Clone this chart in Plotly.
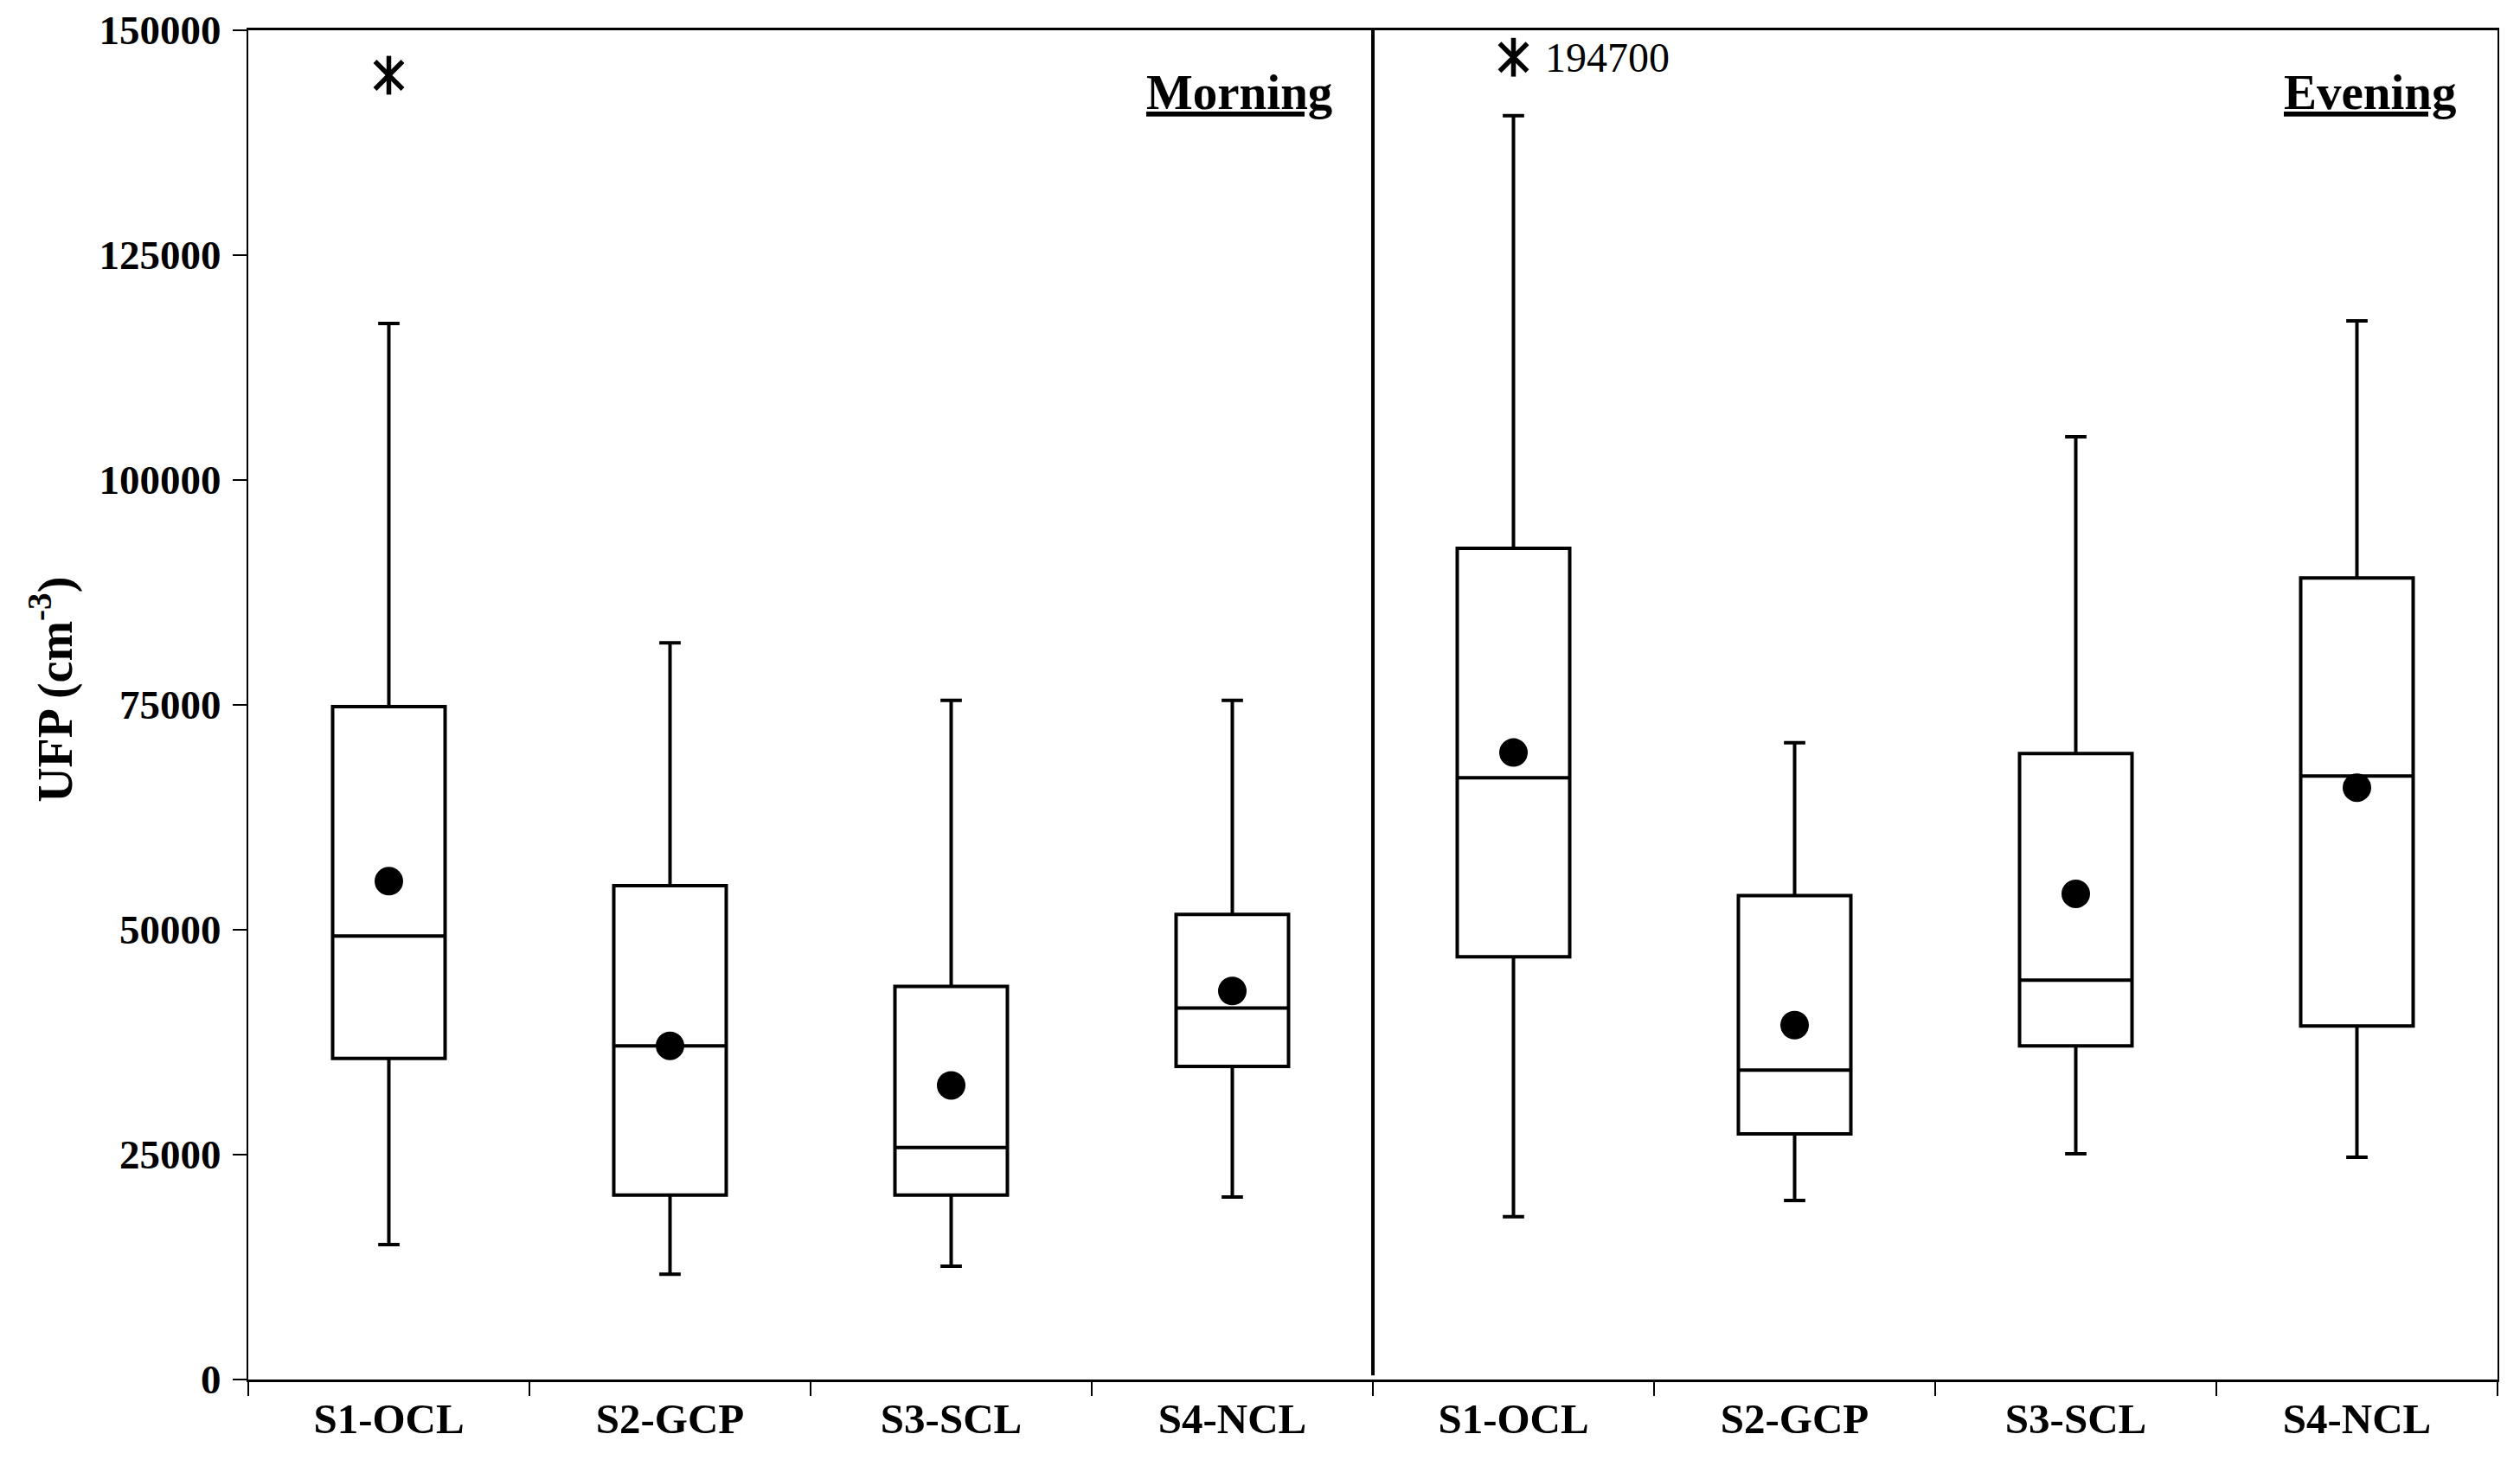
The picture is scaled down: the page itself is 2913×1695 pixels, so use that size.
import plotly.graph_objects as go

# ---- data (UFP, cm^-3) ----
sites = ["S1-OCL", "S2-GCP", "S3-SCL", "S4-NCL",
         "S1-OCL", "S2-GCP", "S3-SCL", "S4-NCL"]
periods = ["Morning"] * 4 + ["Evening"] * 4

ufp_min    = [15000, 11700, 12600, 20300, 18100, 19900, 25100, 24700]
ufp_q1     = [35700, 20500, 20500, 34800, 47000, 27300, 37100, 39300]
ufp_median = [49300, 37100, 25800, 41300, 66900, 34400, 44400, 67100]
ufp_q3     = [74800, 54900, 43700, 51700, 92400, 53800, 69600, 89100]
ufp_max    = [117400, 81900, 75500, 75500, 140500, 70800, 104800, 117700]
ufp_mean   = [55400, 37100, 32700, 43200, 69700, 39400, 54000, 65800]

# extreme values (x index, real value, where it is drawn on the clipped axis)
outlier_idx   = [0, 4]
outlier_value = [145000, 194700]
outlier_drawn = [145000, 147000]

y_max = 150000
y_ticks = [0, 25000, 50000, 75000, 100000, 125000, 150000]

FONT = "Liberation Serif"
xs = list(range(len(sites)))

fig = go.Figure()

fig.add_trace(go.Box(
    x=xs, q1=ufp_q1, median=ufp_median, q3=ufp_q3,
    lowerfence=ufp_min, upperfence=ufp_max,
    boxpoints=False, width=0.4, whiskerwidth=0.19,
    line=dict(color="black", width=4),
    fillcolor="rgba(0,0,0,0)",
    hoverinfo="skip",
))

fig.add_trace(go.Scatter(
    x=xs, y=ufp_mean, mode="markers",
    marker=dict(symbol="circle", size=33, color="black"),
))

# asterisk = x + vertical bar
for sym in ("x-thin-open", "line-ns-open"):
    fig.add_trace(go.Scatter(
        x=outlier_idx, y=outlier_drawn, mode="markers",
        marker=dict(symbol=sym, size=32, color="black",
                    line=dict(color="black", width=5.5)),
    ))

for i, v, d in zip(outlier_idx, outlier_value, outlier_drawn):
    if v > y_max:
        fig.add_annotation(x=i, y=d, xref="x", yref="y", text=str(v),
                           showarrow=False, xanchor="left", xshift=34,
                           font=dict(family=FONT, size=48, color="black"))

# split between the two periods
fig.add_shape(type="line", xref="x", yref="paper", x0=3.5, x1=3.5,
              y0=0.003, y1=1.002, line=dict(color="black", width=4))

for name, xr in (("Morning", 3.5), ("Evening", 7.5)):
    fig.add_annotation(x=xr, y=0.954, xref="x", yref="paper",
                       text=f"<b><u>{name}</u></b>", showarrow=False,
                       xanchor="right", yanchor="middle", xshift=-45,
                       font=dict(family=FONT, size=57, color="black"))

fig.add_annotation(x=-0.0873, y=0.511, xref="paper", yref="paper",
                   text="<b>UFP (cm<sup>-3</sup>)</b>", textangle=-90,
                   showarrow=False, xanchor="center", yanchor="middle",
                   font=dict(family=FONT, size=56, color="black"))

fig.update_xaxes(
    range=[-0.5, 7.5], tickmode="array", tickvals=xs,
    ticktext=[f"<b>{s}</b>" for s in sites], ticks="",
    ticklabelstandoff=0, automargin=False,
    tickfont=dict(family=FONT, size=49, color="black"),
    minor=dict(tickmode="linear", tick0=-0.5, dtick=1, ticks="outside",
               ticklen=16, tickwidth=2, tickcolor="black"),
    showline=True, linecolor="black", linewidth=3, mirror=True,
    showgrid=False, zeroline=False,
)
fig.update_yaxes(
    range=[0, y_max], tickmode="array", tickvals=y_ticks,
    ticktext=[f"<b>{t}</b>" for t in y_ticks],
    ticks="outside", ticklen=16, tickwidth=2, tickcolor="black",
    ticklabelstandoff=4, ticklabeloverflow="allow", automargin=False,
    tickfont=dict(family=FONT, size=47, color="black"),
    showline=True, linecolor="black", linewidth=2, mirror=True,
    showgrid=False, zeroline=False,
)

# page body adds an 8px margin, so the figure is 16px smaller than the window
fig.update_layout(
    width=2897, height=1679,
    margin=dict(l=279, r=18, t=27, b=92),
    showlegend=False,
    plot_bgcolor="white", paper_bgcolor="white",
)

fig.write_html("out.html")
